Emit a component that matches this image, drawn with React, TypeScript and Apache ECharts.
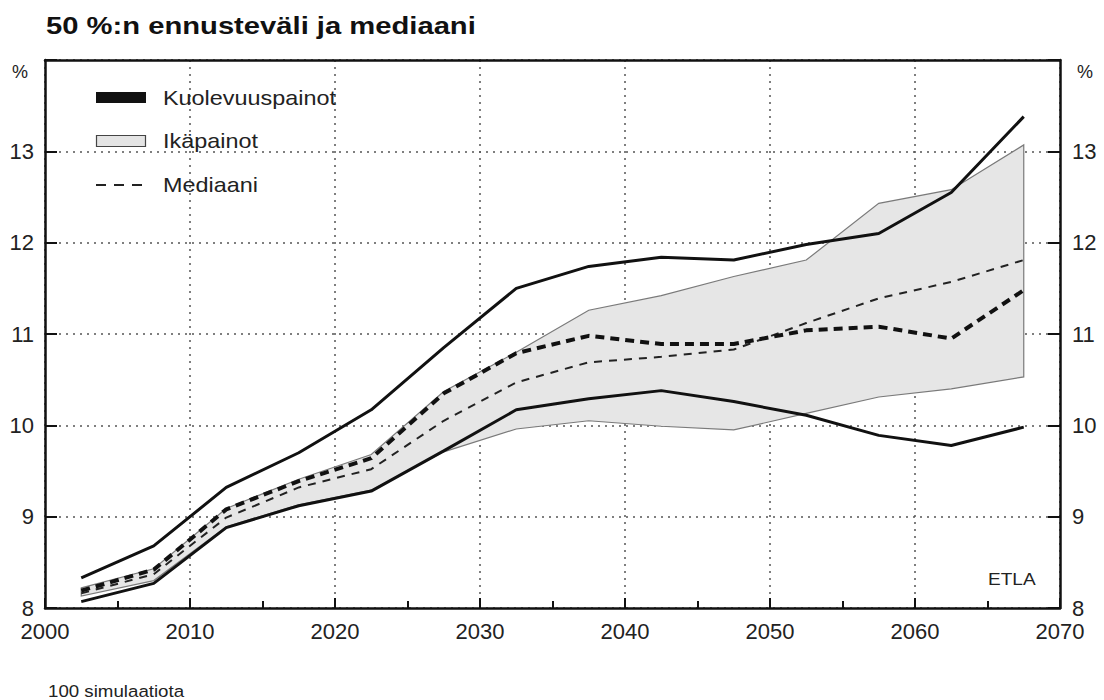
import React, { useEffect, useRef } from "react";
import * as echarts from "echarts";

const FONT = '"Liberation Sans", Arial, Helvetica, sans-serif';

const years = [2002.5, 2007.5, 2012.5, 2017.5, 2022.5, 2027.5, 2032.5, 2037.5, 2042.5, 2047.5, 2052.5, 2057.5, 2062.5, 2067.5];

// Kuolevuuspainot (mortality weights): 50 % interval and median
const kuolUpper = [8.33, 8.68, 9.32, 9.70, 10.17, 10.85, 11.50, 11.74, 11.84, 11.81, 11.98, 12.10, 12.55, 13.38];
const kuolLower = [8.07, 8.27, 8.88, 9.12, 9.28, 9.72, 10.17, 10.29, 10.38, 10.26, 10.11, 9.89, 9.78, 9.98];
const kuolMedian = [8.19, 8.42, 9.08, 9.39, 9.64, 10.35, 10.79, 10.98, 10.89, 10.89, 11.04, 11.08, 10.95, 11.48];

// Ikäpainot (age weights): 50 % interval and median
const ikaUpper = [8.22, 8.43, 9.09, 9.41, 9.68, 10.37, 10.80, 11.26, 11.42, 11.63, 11.81, 12.43, 12.58, 13.07];
const ikaLower = [8.13, 8.30, 8.89, 9.13, 9.29, 9.71, 9.96, 10.05, 9.99, 9.95, 10.13, 10.31, 10.40, 10.53];
const ikaMedian = [8.16, 8.37, 8.99, 9.32, 9.52, 10.05, 10.47, 10.69, 10.75, 10.83, 11.12, 11.39, 11.57, 11.81];

const yTickLabels = ["8", "9", "10", "11", "12", "13"];
const xTickLabels = ["2000", "2010", "2020", "2030", "2040", "2050", "2060", "2070"];

const pair = (vals: number[]) => years.map((y, i) => [y, vals[i]]);

export default function App() {
  const ref = useRef<HTMLDivElement>(null);
  useEffect(() => {
    if (!ref.current) return;
    const chart = echarts.init(ref.current, undefined, { renderer: "svg" });
    const axisColor = "#111";
    const gridLine = { show: true, lineStyle: { type: [2, 5] as any, color: "#555", width: 1.5 } };
    const yLabelFmt = (v: number) => (yTickLabels.indexOf(String(v)) >= 0 ? String(v) : "");
    const xLabelFmt = (v: number) => (xTickLabels.indexOf(String(v)) >= 0 ? String(v) : "");
    const option: any = {
      animation: false,
      backgroundColor: "#fff",
      grid: { left: 45, right: 44, top: 60, bottom: 92, containLabel: false },
      xAxis: [
        {
          type: "value", min: 2000, max: 2070, interval: 10, position: "bottom",
          axisLine: { show: true, lineStyle: { color: axisColor, width: 2.5 } },
          axisTick: { show: true, inside: true, length: 10, lineStyle: { color: axisColor, width: 2 } },
          minorTick: { show: true, splitNumber: 2, length: 7, lineStyle: { color: axisColor, width: 2 } },
          axisLabel: { fontSize: 22, color: "#222", margin: 12, fontFamily: FONT, formatter: xLabelFmt },
          splitLine: gridLine,
        },
        {
          type: "value", min: 2000, max: 2070, position: "top",
          axisLine: { show: true, lineStyle: { color: axisColor, width: 2.5 } },
          axisTick: { show: false }, axisLabel: { show: false }, splitLine: { show: false },
        },
      ],
      yAxis: [
        {
          type: "value", min: 8, max: 14, interval: 1, position: "left",
          axisLine: { show: true, lineStyle: { color: axisColor, width: 2.5 } },
          axisTick: { show: true, inside: true, length: 12, lineStyle: { color: axisColor, width: 2 } },
          axisLabel: { fontSize: 22, color: "#222", margin: 11, fontFamily: FONT, formatter: yLabelFmt },
          splitLine: gridLine,
        },
        {
          type: "value", min: 8, max: 14, interval: 1, position: "right",
          axisLine: { show: true, lineStyle: { color: axisColor, width: 2.5 } },
          axisTick: { show: true, inside: true, length: 12, lineStyle: { color: axisColor, width: 2 } },
          axisLabel: { fontSize: 22, color: "#222", margin: 12, fontFamily: FONT, formatter: yLabelFmt },
          splitLine: { show: false },
        },
      ],
      series: [
        {
          name: "Ikäpainot",
          type: "custom",
          z: 1,
          data: years.map((y, i) => [y, ikaLower[i], ikaUpper[i]]),
          encode: { x: 0, y: [1, 2] },
          renderItem: (params: any, api: any) => {
            if (params.dataIndex !== 0) return null;
            const pts: number[][] = [];
            for (let i = 0; i < years.length; i++) pts.push(api.coord([years[i], ikaUpper[i]]));
            for (let i = years.length - 1; i >= 0; i--) pts.push(api.coord([years[i], ikaLower[i]]));
            return {
              type: "polygon",
              shape: { points: pts },
              style: { fill: "#e6e6e6", stroke: "#7a7a7a", lineWidth: 1.2 },
            };
          },
        },
        {
          name: "Ikä mediaani", type: "line", data: pair(ikaMedian), symbol: "none", z: 3,
          lineStyle: { color: "#222", width: 2, type: [8, 7] },
        },
        {
          name: "Kuolevuus mediaani", type: "line", data: pair(kuolMedian), symbol: "none", z: 4,
          lineStyle: { color: "#111", width: 4, type: [9, 6] },
        },
        {
          name: "Kuolevuus ylä", type: "line", data: pair(kuolUpper), symbol: "none", z: 5,
          lineStyle: { color: "#111", width: 3 },
        },
        {
          name: "Kuolevuus ala", type: "line", data: pair(kuolLower), symbol: "none", z: 5,
          lineStyle: { color: "#111", width: 3 },
        },
      ],
      graphic: [
        {
          type: "text", x: 46, y: 15, scaleX: 1.27, z: 10,
          style: { text: "50 %:n ennusteväli ja mediaani", fontSize: 23, fontWeight: "bold", fontFamily: FONT, fill: "#111", textVerticalAlign: "top", verticalAlign: "top" },
        },
        {
          type: "text", x: 12, y: 72, z: 10,
          style: { text: "%", fontSize: 18, fontFamily: FONT, fill: "#222", textVerticalAlign: "middle", verticalAlign: "middle" },
        },
        {
          type: "text", x: 1077, y: 72, z: 10,
          style: { text: "%", fontSize: 18, fontFamily: FONT, fill: "#222", textVerticalAlign: "middle", verticalAlign: "middle" },
        },
        { type: "rect", z: 10, shape: { x: 96, y: 92, width: 50, height: 11 }, style: { fill: "#111" } },
        { type: "rect", z: 10, shape: { x: 96.5, y: 135.5, width: 49, height: 11 }, style: { fill: "#e4e4e4", stroke: "#444", lineWidth: 1.2 } },
        { type: "line", z: 10, shape: { x1: 96, y1: 185, x2: 146, y2: 185 }, style: { stroke: "#222", lineWidth: 2, lineDash: [10, 8] } },
        {
          type: "text", x: 163, y: 98, scaleX: 1.17, z: 10,
          style: { text: "Kuolevuuspainot", fontSize: 20, fontFamily: FONT, fill: "#222", textVerticalAlign: "middle", verticalAlign: "middle" },
        },
        {
          type: "text", x: 163, y: 141, scaleX: 1.17, z: 10,
          style: { text: "Ikäpainot", fontSize: 20, fontFamily: FONT, fill: "#222", textVerticalAlign: "middle", verticalAlign: "middle" },
        },
        {
          type: "text", x: 163, y: 185, scaleX: 1.17, z: 10,
          style: { text: "Mediaani", fontSize: 20, fontFamily: FONT, fill: "#222", textVerticalAlign: "middle", verticalAlign: "middle" },
        },
        {
          type: "text", x: 988, y: 579, scaleX: 1.12, z: 10,
          style: { text: "ETLA", fontSize: 17, fontFamily: FONT, fill: "#222", textVerticalAlign: "middle", verticalAlign: "middle" },
        },
        {
          type: "text", x: 48, y: 691, scaleX: 1.1, z: 10,
          style: { text: "100 simulaatiota", fontSize: 17, fontFamily: FONT, fill: "#222", textVerticalAlign: "middle", verticalAlign: "middle" },
        },
      ],
    };
    chart.setOption(option);
    return () => chart.dispose();
  }, []);
  return (
    <div
      ref={ref}
      style={{ position: "fixed", left: 0, top: 0, width: 1104, height: 700, background: "#fff" }}
    />
  );
}
